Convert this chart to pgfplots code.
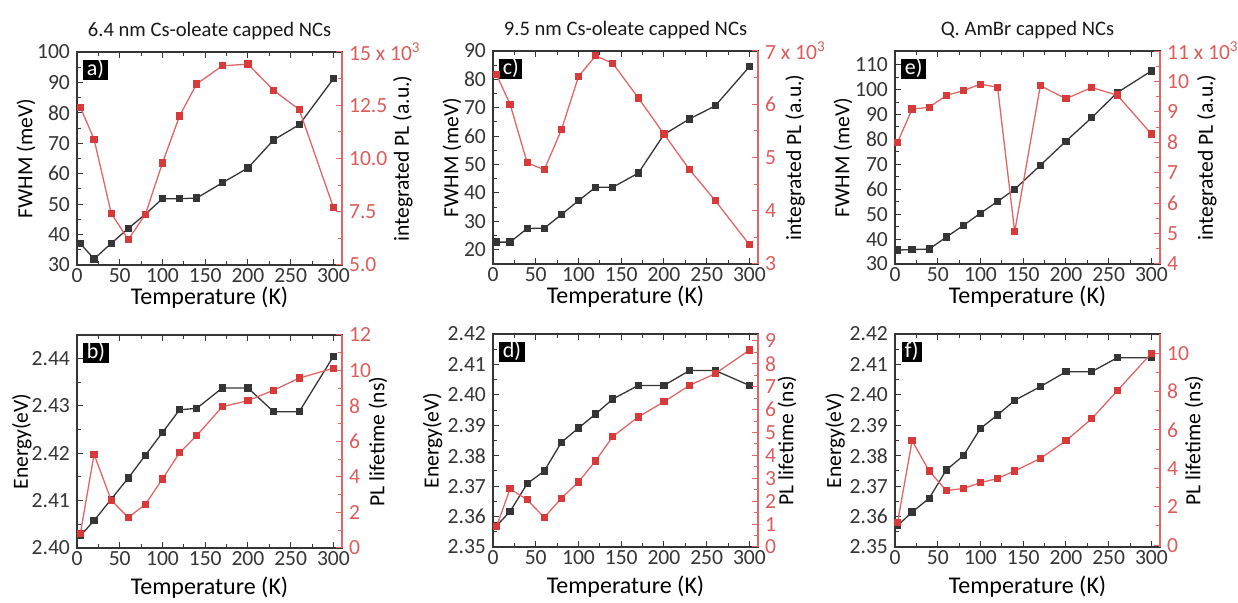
\documentclass[border=0pt]{standalone}
\usepackage{fontspec}
\setmainfont{Carlito}
\usepackage{pgfplots}
\usepackage{pgfplotstable}
\pgfplotsset{compat=1.18}
\definecolor{dk}{HTML}{353535}
\definecolor{rl}{HTML}{E26666}
\definecolor{rm}{HTML}{D83A3A}
\definecolor{rt}{HTML}{DC5C5C}

% panel a: 6.4 nm, FWHM (L) and integrated PL x1e3 (R)
\pgfplotstableread{
T L R
4 37.0 12.40
20 32.0 10.90
40 37.1 7.43
60 42.0 6.19
80 46.7 7.38
100 51.8 9.79
120 51.8 12.00
140 52.0 13.50
170 57.0 14.35
200 61.9 14.43
230 71.1 13.20
260 76.1 12.30
300 91.2 7.70
}\dataa
% panel c: 9.5 nm
\pgfplotstableread{
T L R
4 22.7 6.56
20 22.7 6.00
40 27.5 4.90
60 27.6 4.77
80 32.4 5.52
100 37.3 6.52
120 42.0 6.91
140 42.0 6.77
170 47.0 6.12
200 60.6 5.44
230 66.1 4.77
260 70.7 4.19
300 84.5 3.36
}\datac
% panel e: Q. AmBr
\pgfplotstableread{
T L R
3 35.6 8.00
20 35.8 9.09
40 36.0 9.15
60 40.8 9.54
80 45.5 9.70
100 50.4 9.91
120 55.1 9.81
140 60.0 5.06
170 69.6 9.86
200 79.3 9.43
230 88.7 9.80
260 98.8 9.55
300 107.5 8.27
}\datae
% panel b: Energy (L) and PL lifetime (R)
\pgfplotstableread{
T L R
4 2.4026 0.83
20 2.4058 5.28
40 2.4103 2.69
60 2.4148 1.72
80 2.4196 2.46
100 2.4244 3.89
120 2.4292 5.37
140 2.4295 6.33
170 2.4338 7.96
200 2.4338 8.30
230 2.4288 8.89
260 2.4288 9.57
300 2.4405 10.13
}\datab
% panel d
\pgfplotstableread{
T L R
4 2.3569 0.88
20 2.3617 2.54
40 2.3708 2.06
60 2.3750 1.29
80 2.3844 2.13
100 2.3891 2.84
120 2.3937 3.76
140 2.3986 4.82
170 2.4031 5.68
200 2.4031 6.34
230 2.4080 7.06
260 2.4080 7.57
300 2.4031 8.60
}\datad
% panel f
\pgfplotstableread{
T L R
3 2.3570 1.18
20 2.3615 5.44
40 2.3660 3.86
60 2.3753 2.84
80 2.3800 2.95
100 2.3890 3.25
120 2.3934 3.47
140 2.3982 3.86
170 2.4027 4.51
200 2.4076 5.44
230 2.4076 6.58
260 2.4122 8.04
300 2.4122 10.00
}\dataf

\pgfplotsset{
  panel/.style={scale only axis, width=132.5pt, height=106.5pt, anchor=south west,
    xmin=0, xmax=310, tick align=inside, clip=false,
    axis line style={dk, line width=0.6pt}, tick style={dk, line width=0.5pt},
    major tick length=3pt, minor tick length=1.8pt,
    ticklabel style={font=\fontsize{10.8}{12}\selectfont, text=dk},
    xticklabel style={yshift=2pt},
    label style={font=\fontsize{10.8}{12}\selectfont}},
  leftax/.style n args={2}{panel, xtick={0,50,...,300}, minor x tick num=1,
    xtick pos=both, ytick pos=left, xticklabels={0,50,100,150,200,250,300},
    minor y tick num=1, xlabel={Temperature (K)},
    xlabel style={at={(rel axis cs:0.5,#2)}, anchor=center,
      font=\fontsize{12}{13}\selectfont},
    ylabel style={at={(rel axis cs:#1,0.5)}, anchor=center}},
  rightax/.style={panel, axis x line=none, axis y line*=right,
    y axis line style={rl}, ytick style={rl}, yticklabel style={text=rt},
    minor y tick num=1},
  blkser/.style={dk, line width=0.65pt, mark=square*, mark size=1.5pt,
    mark options={fill=dk, draw=dk}},
  redser/.style={rl, line width=0.65pt, mark=square*, mark size=1.5pt,
    mark options={fill=rm, draw=rm}},
}
\tikzset{
  plab/.style={fill=black, text=white, anchor=north west, inner xsep=1.7pt,
    inner ysep=0.9pt, text height=6.8pt, text depth=1.3pt,
    font=\fontsize{11}{12}\selectfont},
  ttl/.style={anchor=center, font=\fontsize{10.3}{12}\selectfont, text=black!90},
  rlab/.style={rotate=90, anchor=center, font=\fontsize{10.8}{12}\selectfont},
}

\begin{document}
\begin{tikzpicture}
\useasboundingbox (0,0) rectangle (619pt,301.5pt);

% ---------- panel a ----------
\begin{axis}[at={(38.5pt,169pt)}, leftax={-0.193}{-0.155},
  ymin=30, ymax=100, ytick={30,40,...,100}, yticklabels={30,40,50,60,70,80,90,100},
  ylabel={FWHM (meV)}]
\addplot[blkser] table[x=T,y=L]{\dataa};
\node[plab] at (rel axis cs:0.023,0.963) {a)};
\node[ttl] at (rel axis cs:0.5,1.097) {6.4 nm Cs-oleate capped NCs};
\end{axis}
\begin{axis}[at={(38.5pt,169pt)}, rightax, ymin=5, ymax=15,
  ytick={5,7.5,10,12.5,15}, yticklabels={5.0,7.5,10.0,12.5,{15 x 10\textsuperscript{3}}}]
\addplot[redser] table[x=T,y=R]{\dataa};
\node[rlab] at (rel axis cs:1.23,0.5) {integrated PL (a.u.)};
\end{axis}

% ---------- panel c ----------
\begin{axis}[at={(246.5pt,169.5pt)}, leftax={-0.155}{-0.155},
  ymin=15, ymax=90, ytick={20,30,...,90}, yticklabels={20,30,40,50,60,70,80,90},
  ylabel={FWHM (meV)}]
\addplot[blkser] table[x=T,y=L]{\datac};
\node[plab] at (rel axis cs:0.023,0.963) {c)};
\node[ttl] at (rel axis cs:0.5,1.097) {9.5 nm Cs-oleate capped NCs};
\end{axis}
\begin{axis}[at={(246.5pt,169.5pt)}, rightax, ymin=3, ymax=7,
  ytick={3,4,5,6,7}, yticklabels={3,4,5,6,{7 x 10\textsuperscript{3}}}]
\addplot[redser] table[x=T,y=R]{\datac};
\node[rlab] at (rel axis cs:1.14,0.5) {integrated PL (a.u.)};
\end{axis}

% ---------- panel e ----------
\begin{axis}[at={(447.5pt,169.5pt)}, leftax={-0.196}{-0.155},
  ymin=30, ymax=115.5, ytick={30,40,...,110}, yticklabels={30,40,50,60,70,80,90,100,110},
  ylabel={FWHM (meV)}]
\addplot[blkser] table[x=T,y=L]{\datae};
\node[plab] at (rel axis cs:0.023,0.963) {e)};
\node[ttl] at (rel axis cs:0.5,1.097) {Q. AmBr capped NCs};
\end{axis}
\begin{axis}[at={(447.5pt,169.5pt)}, rightax, ymin=4, ymax=11,
  ytick={4,5,...,11}, yticklabels={4,5,6,7,8,9,10,{11 x 10\textsuperscript{3}}}]
\addplot[redser] table[x=T,y=R]{\datae};
\node[rlab] at (rel axis cs:1.177,0.5) {integrated PL (a.u.)};
\end{axis}

% ---------- panel b ----------
\begin{axis}[at={(38.5pt,27.5pt)}, leftax={-0.208}{-0.185},
  ymin=2.40, ymax=2.445, ytick={2.40,2.41,2.42,2.43,2.44},
  yticklabels={2.40,2.41,2.42,2.43,2.44}, ylabel={Energy(eV)}]
\addplot[blkser] table[x=T,y=L]{\datab};
\node[plab] at (rel axis cs:0.023,0.963) {b)};
\end{axis}
\begin{axis}[at={(38.5pt,27.5pt)}, rightax, ymin=0, ymax=12,
  ytick={0,2,...,12}, yticklabels={0,2,4,6,8,10,12}]
\addplot[redser] table[x=T,y=R]{\datab};
\node[rlab] at (rel axis cs:1.136,0.5) {PL lifetime (ns)};
\end{axis}

% ---------- panel d ----------
\begin{axis}[at={(246.5pt,28pt)}, leftax={-0.228}{-0.185},
  ymin=2.35, ymax=2.42, ytick={2.35,2.36,...,2.42},
  yticklabels={2.35,2.36,2.37,2.38,2.39,2.40,2.41,2.42}, ylabel={Energy(eV)}]
\addplot[blkser] table[x=T,y=L]{\datad};
\node[plab] at (rel axis cs:0.023,0.963) {d)};
\end{axis}
\begin{axis}[at={(246.5pt,28pt)}, rightax, ymin=0, ymax=9.3,
  ytick={0,1,...,9}, yticklabels={0,1,2,3,4,5,6,7,8,9}]
\addplot[redser] table[x=T,y=R]{\datad};
\node[rlab] at (rel axis cs:1.109,0.5) {PL lifetime (ns)};
\end{axis}

% ---------- panel f ----------
\begin{axis}[at={(447.5pt,28pt)}, leftax={-0.226}{-0.185},
  ymin=2.35, ymax=2.42, ytick={2.35,2.36,...,2.42},
  yticklabels={2.35,2.36,2.37,2.38,2.39,2.40,2.41,2.42}, ylabel={Energy(eV)}]
\addplot[blkser] table[x=T,y=L]{\dataf};
\node[plab] at (rel axis cs:0.023,0.963) {f)};
\end{axis}
\begin{axis}[at={(447.5pt,28pt)}, rightax, ymin=-0.1, ymax=11,
  ytick={0,2,...,10}, yticklabels={0,2,4,6,8,10}]
\addplot[redser] table[x=T,y=R]{\dataf};
\node[rlab] at (rel axis cs:1.128,0.5) {PL lifetime (ns)};
\end{axis}
\end{tikzpicture}
\end{document}
